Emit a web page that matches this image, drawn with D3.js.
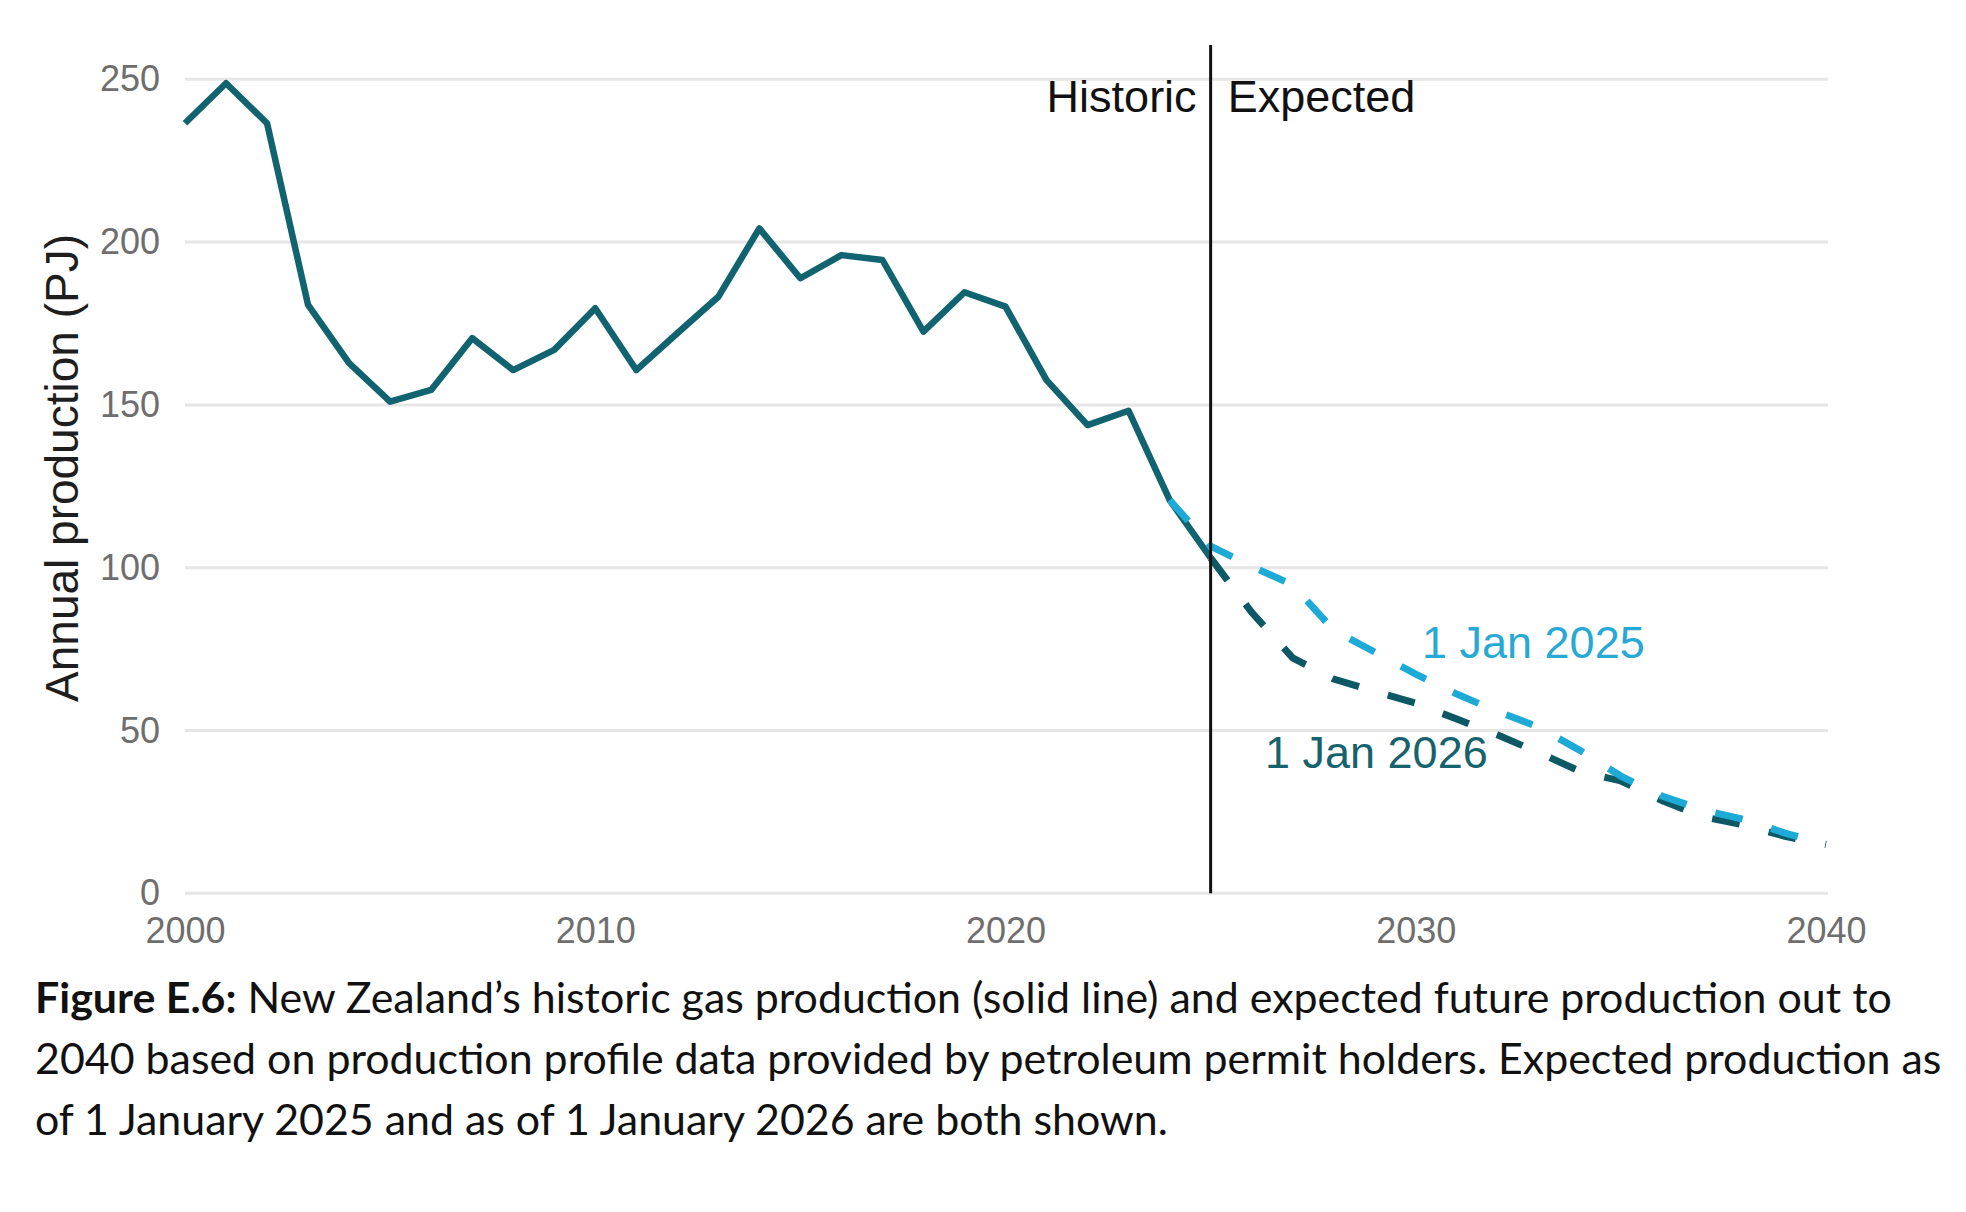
<!DOCTYPE html>
<html>
<head>
<meta charset="utf-8">
<script src="https://cdn.jsdelivr.net/npm/d3@7.9.0/dist/d3.min.js"></script>
<style>
  body { margin: 0; background: #fff; }
  svg { display: block; }
</style>
</head>
<body>
<svg id="chart" width="1966" height="1212"></svg>
<script>
// values (PJ per year)
const histYears = d3.range(2000, 2026);
const histValues = [236.5, 248.8, 236.5, 180.7, 162.8, 151, 154.6, 170.5, 160.7, 166.9,
                    179.7, 160.7, 172, 183.2, 204.2, 188.9, 196, 194.5, 172.5, 184.6,
                    180.2, 157.6, 143.8, 148.2, 120.8, 103];

const jan25Years = d3.range(2024, 2041);
const jan25Values = [120.8, 106.6, 100.4, 94.7, 80.8, 74.1, 67.3, 61.2, 55.8, 51,
                     43.9, 36, 29.9, 25.6, 22.7, 18.5, 15];

const jan26Years = d3.range(2025, 2041);
const jan26Values = [103, 86.3, 72.3, 65.8, 62, 58.4, 53.5, 48.6, 43.2, 37.5,
                     34.5, 28.5, 23.5, 21, 17.5, 15];

const yTicks = [0, 50, 100, 150, 200, 250];
const xTicks = [2000, 2010, 2020, 2030, 2040];
const splitYear = 2025;

const captionLines = [
  [["Figure E.6:", true], [" New Zealand\u2019s historic gas production (solid line) and expected future production out to", false]],
  [["2040 based on production profile data provided by petroleum permit holders. Expected production as", false]],
  [["of 1 January 2025 and as of 1 January 2026 are both shown.", false]]
];

const colHist = "#10636f";
const col26 = "#0c5965";
const col25 = "#1eaad6";

const svg = d3.select("#chart");
const axisFont = "'Liberation Sans', Arial, sans-serif";

const x = d3.scaleLinear().domain([2000, 2040]).range([185, 1826]);
const y = d3.scaleLinear().domain([0, 250]).range([893.3, 79.3]);

// gridlines
svg.append("g")
  .selectAll("line")
  .data(yTicks)
  .join("line")
  .attr("x1", x(2000))
  .attr("x2", x(2040) + 2)
  .attr("y1", d => y(d))
  .attr("y2", d => y(d))
  .attr("stroke", "#e6e6e6")
  .attr("stroke-width", 3);

// y axis
const yAxis = svg.append("g")
  .attr("transform", `translate(${x(2000)},0)`)
  .call(d3.axisLeft(y).tickValues(yTicks).tickSize(0).tickPadding(25));
yAxis.select(".domain").remove();
yAxis.selectAll("text")
  .attr("font-family", axisFont)
  .attr("font-size", 36)
  .attr("fill", "#6e6e6e");

// x axis
const xAxis = svg.append("g")
  .attr("transform", `translate(0,${y(0)})`)
  .call(d3.axisBottom(x).tickValues(xTicks).tickFormat(d3.format("d")).tickSize(0).tickPadding(24));
xAxis.select(".domain").remove();
xAxis.selectAll("text")
  .attr("font-family", axisFont)
  .attr("font-size", 36)
  .attr("fill", "#6e6e6e");

// y title
svg.append("text")
  .attr("transform", "translate(78,468) rotate(-90)")
  .attr("text-anchor", "middle")
  .attr("font-family", axisFont)
  .attr("font-size", 46)
  .attr("fill", "#1e1e1e")
  .text("Annual production (PJ)");

const line = d3.line()
  .x(d => x(d[0]))
  .y(d => y(d[1]));

// historic (solid)
svg.append("path")
  .datum(d3.zip(histYears, histValues))
  .attr("d", line)
  .attr("fill", "none")
  .attr("stroke", colHist)
  .attr("stroke-width", 6.5)
  .attr("stroke-linejoin", "round");

// expected as of 1 Jan 2026
svg.append("path")
  .datum(d3.zip(jan26Years, jan26Values))
  .attr("d", line)
  .attr("fill", "none")
  .attr("stroke", col26)
  .attr("stroke-width", 7)
  .attr("stroke-dasharray", "28,30");

// expected as of 1 Jan 2025
svg.append("path")
  .datum(d3.zip(jan25Years, jan25Values))
  .attr("d", line)
  .attr("fill", "none")
  .attr("stroke", col25)
  .attr("stroke-width", 7)
  .attr("stroke-dasharray", "28,30");

// historic / expected split
svg.append("line")
  .attr("x1", x(splitYear))
  .attr("x2", x(splitYear))
  .attr("y1", 45)
  .attr("y2", y(0))
  .attr("stroke", "#111")
  .attr("stroke-width", 3);

svg.append("text")
  .attr("x", x(splitYear) - 14)
  .attr("y", 112)
  .attr("text-anchor", "end")
  .attr("font-family", axisFont)
  .attr("font-size", 45)
  .attr("fill", "#111")
  .text("Historic");

svg.append("text")
  .attr("x", x(splitYear) + 17)
  .attr("y", 112)
  .attr("font-family", axisFont)
  .attr("font-size", 45)
  .attr("fill", "#111")
  .text("Expected");

// series labels
svg.append("text")
  .attr("x", 1422)
  .attr("y", 658)
  .attr("font-family", axisFont)
  .attr("font-size", 45)
  .attr("fill", "#26a9d4")
  .text("1 Jan 2025");

svg.append("text")
  .attr("x", 1265)
  .attr("y", 768)
  .attr("font-family", axisFont)
  .attr("font-size", 45)
  .attr("fill", "#16626d")
  .text("1 Jan 2026");

// caption
const cap = svg.append("g")
  .attr("font-family", "Lato, 'Open Sans', sans-serif")
  .attr("fill", "#111");

const capTexts = cap.selectAll("text")
  .data(captionLines)
  .join("text")
  .attr("x", 35)
  .attr("y", (d, i) => 1013 + i * 61)
  .attr("font-size", 40);

capTexts.selectAll("tspan")
  .data(d => d)
  .join("tspan")
  .attr("font-weight", d => d[1] ? 700 : 400)
  .text(d => d[0]);

// fit font size so the first two lines span about the same width as the reference
const w1 = capTexts.nodes()[0].getComputedTextLength();
const w2 = capTexts.nodes()[1].getComputedTextLength();
const capSize = 40 * ((1897 - 35) + (1937 - 35)) / (w1 + w2);
capTexts.attr("font-size", capSize);
</script>
</body>
</html>
